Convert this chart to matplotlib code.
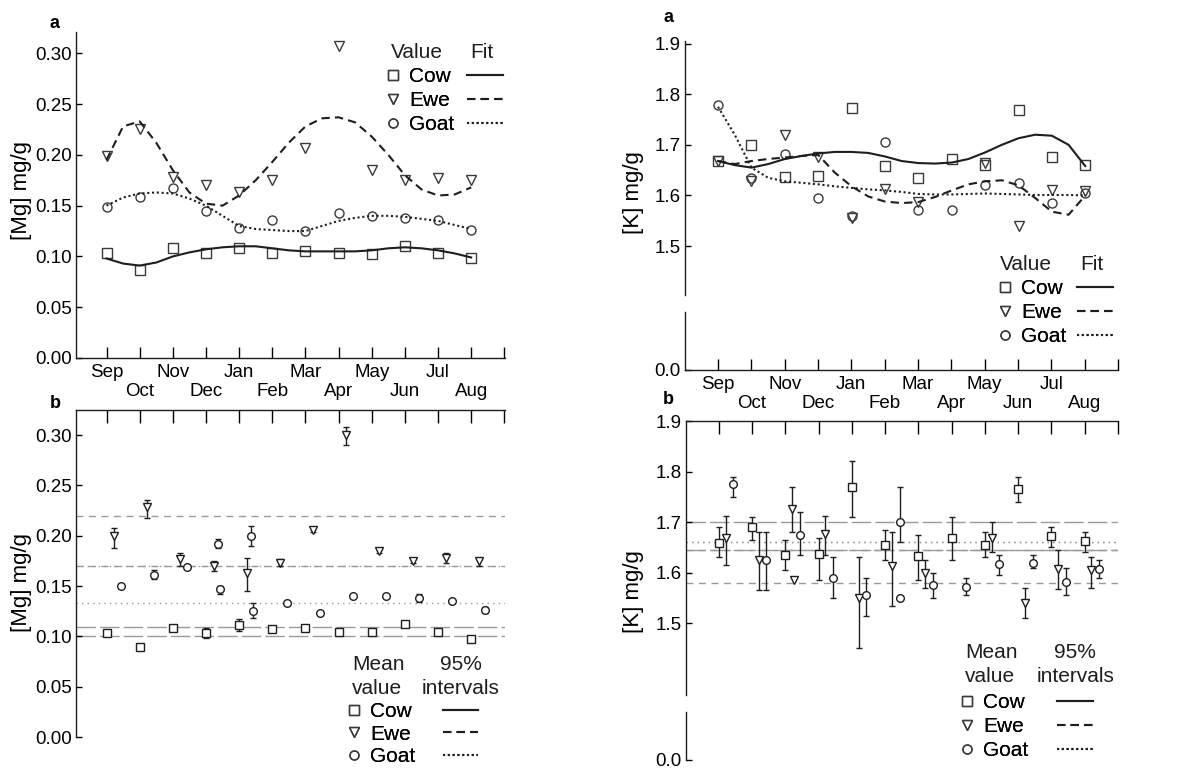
import numpy as np
import matplotlib
matplotlib.use("Agg")
import matplotlib.pyplot as plt
from matplotlib.lines import Line2D

plt.rcParams['font.family'] = ['Liberation Sans', 'DejaVu Sans']

# ---------------- data ----------------
months = ['Sep', 'Oct', 'Nov', 'Dec', 'Jan', 'Feb', 'Mar', 'Apr', 'May', 'Jun', 'Jul', 'Aug']
species = ['Cow', 'Ewe', 'Goat']

# [Mg] panel a: values
mg_a_cow = [0.103, 0.087, 0.108, 0.103, 0.108, 0.103, 0.105, 0.103, 0.102, 0.110, 0.103, 0.098]
mg_a_ewe = [0.199, 0.225, 0.178, 0.170, 0.163, 0.175, 0.207, 0.307, 0.185, 0.175, 0.177, 0.175]
mg_a_goat = [0.149, 0.159, 0.167, 0.145, 0.128, 0.136, 0.125, 0.143, 0.140, 0.138, 0.136, 0.126]
# [Mg] panel a: fitted curves, read every half month from Sep
mg_fit_cow = [0.098, 0.093, 0.091, 0.094, 0.100, 0.104, 0.107, 0.109, 0.110, 0.110, 0.108, 0.106,
              0.105, 0.105, 0.105, 0.105, 0.106, 0.108, 0.109, 0.108, 0.106, 0.103, 0.099]
mg_fit_ewe = [0.195, 0.228, 0.233, 0.212, 0.185, 0.163, 0.152, 0.150, 0.160, 0.175, 0.193, 0.212,
              0.228, 0.236, 0.237, 0.232, 0.218, 0.200, 0.180, 0.166, 0.160, 0.161, 0.168]
mg_fit_goat = [0.150, 0.158, 0.162, 0.163, 0.162, 0.157, 0.150, 0.140, 0.130, 0.127, 0.126, 0.125,
               0.125, 0.130, 0.135, 0.138, 0.140, 0.140, 0.139, 0.137, 0.135, 0.131, 0.127]

# [Mg] panel b: means and 95% limits
mg_b_cow = [0.103, 0.089, 0.108, 0.103, 0.111, 0.107, 0.108, 0.104, 0.104, 0.112, 0.104, 0.097]
mg_b_cow_lo = [0.101, 0.087, 0.106, 0.098, 0.105, 0.105, 0.106, 0.102, 0.102, 0.110, 0.102, 0.095]
mg_b_cow_hi = [0.105, 0.091, 0.110, 0.108, 0.117, 0.109, 0.110, 0.106, 0.106, 0.114, 0.106, 0.099]
mg_b_ewe = [0.200, 0.229, 0.177, 0.170, 0.163, 0.173, 0.206, 0.300, 0.185, 0.175, 0.178, 0.175]
mg_b_ewe_lo = [0.188, 0.218, 0.170, 0.165, 0.145, 0.170, 0.204, 0.290, 0.183, 0.173, 0.173, 0.170]
mg_b_ewe_hi = [0.208, 0.236, 0.183, 0.175, 0.178, 0.177, 0.208, 0.308, 0.187, 0.177, 0.183, 0.178]
mg_b_goat = [0.150, 0.161, 0.169, 0.147, 0.125, 0.133, 0.123, 0.140, 0.140, 0.138, 0.135, 0.126]
mg_b_goat_lo = [0.148, 0.157, 0.167, 0.142, 0.118, 0.131, 0.121, 0.138, 0.138, 0.134, 0.133, 0.123]
mg_b_goat_hi = [0.152, 0.166, 0.171, 0.150, 0.133, 0.135, 0.125, 0.142, 0.142, 0.142, 0.137, 0.129]
# additional goat means seen in Dec and Jan
mg_b_extra_month = [3, 4]
mg_b_extra = [0.192, 0.200]
mg_b_extra_lo = [0.188, 0.190]
mg_b_extra_hi = [0.197, 0.210]
# 95% interval reference lines
mg_int_cow = [0.100, 0.109]
mg_int_ewe = [0.170, 0.220]
mg_int_goat = [0.133, 0.170]

# [K] panel a: values
k_a_cow = [1.668, 1.700, 1.636, 1.638, 1.772, 1.658, 1.635, 1.672, 1.660, 1.768, 1.675, 1.660]
k_a_ewe = [1.668, 1.628, 1.720, 1.675, 1.555, 1.612, 1.588, np.nan, 1.665, 1.540, 1.610, 1.608]
k_a_goat = [1.778, 1.635, 1.682, 1.595, 1.560, 1.705, 1.572, 1.572, 1.620, 1.625, 1.585, 1.605]
# [K] panel a: fitted curves, every half month from Sep
k_fit_cow = [1.668, 1.660, 1.655, 1.662, 1.672, 1.678, 1.683, 1.686, 1.686, 1.684, 1.677, 1.668,
             1.664, 1.663, 1.665, 1.672, 1.685, 1.700, 1.713, 1.720, 1.718, 1.700, 1.658]
k_fit_ewe = [1.668, 1.662, 1.668, 1.672, 1.675, 1.678, 1.680, 1.645, 1.618, 1.598, 1.588, 1.585,
             1.587, 1.597, 1.610, 1.622, 1.628, 1.630, 1.620, 1.595, 1.568, 1.562, 1.600]
k_fit_goat = [1.775, 1.720, 1.655, 1.635, 1.628, 1.625, 1.622, 1.618, 1.615, 1.612, 1.610, 1.607,
              1.603, 1.602, 1.602, 1.603, 1.604, 1.603, 1.602, 1.601, 1.601, 1.601, 1.600]

# [K] panel b: means and 95% limits
k_b_cow = [1.658, 1.690, 1.635, 1.637, 1.770, 1.655, 1.633, 1.668, 1.655, 1.765, 1.672, 1.662]
k_b_cow_lo = [1.630, 1.665, 1.605, 1.585, 1.710, 1.625, 1.585, 1.625, 1.630, 1.740, 1.650, 1.640]
k_b_cow_hi = [1.690, 1.710, 1.665, 1.668, 1.820, 1.685, 1.675, 1.710, 1.680, 1.790, 1.690, 1.680]
k_b_ewe = [1.668, 1.625, 1.725, 1.677, 1.550, 1.613, 1.600, np.nan, 1.668, 1.540, 1.607, 1.605]
k_b_ewe_lo = [1.615, 1.565, 1.680, 1.635, 1.450, 1.535, 1.570, np.nan, 1.640, 1.510, 1.567, 1.570]
k_b_ewe_hi = [1.713, 1.680, 1.770, 1.713, 1.630, 1.680, 1.625, np.nan, 1.700, 1.570, 1.645, 1.630]
k_b_goat = [1.776, 1.625, 1.675, 1.590, 1.555, 1.700, 1.575, 1.572, 1.617, 1.620, 1.582, 1.608]
k_b_goat_lo = [1.750, 1.565, 1.635, 1.550, 1.515, 1.660, 1.550, 1.555, 1.595, 1.610, 1.555, 1.590]
k_b_goat_hi = [1.790, 1.680, 1.720, 1.630, 1.590, 1.770, 1.600, 1.590, 1.635, 1.635, 1.610, 1.625]
# additional means seen in Nov (ewe) and Feb (goat)
k_b_extra_ewe_month = [2]
k_b_extra_ewe = [1.585]
k_b_extra_goat_month = [5]
k_b_extra_goat = [1.550]
# 95% interval reference lines
k_int_cow = [1.645, 1.700]
k_int_ewe = [1.580, 1.645]
k_int_goat = [1.660, 1.660]

# ---------------- layout helpers ----------------
W, H = 1196, 773
fig = plt.figure(figsize=(W / 100, H / 100), dpi=100)
fig.patch.set_facecolor('white')


def rect(l, t, r, b):
    return [l / W, 1 - b / H, (r - l) / W, (b - t) / H]


def fx(x):
    return x / W


def fy(y):
    return 1 - y / H


INK = '#1e1e1e'
MK = '#3a3a3a'
REF = '#9a9a9a'
FS_TICK = 13.5
FS_LEG = 15
markers = {'Cow': 's', 'Ewe': 'v', 'Goat': 'o'}
fit_styles = {'Cow': '-', 'Ewe': (0, (4, 2.5)), 'Goat': (0, (1, 1.3))}
ref_styles = {'Cow': (0, (14, 3)), 'Ewe': (0, (5, 4)), 'Goat': (0, (1, 3))}

month_idx = np.arange(len(months))
tick_pos = np.arange(len(months) + 1)
tick_labels = [m if i % 2 == 0 else '\n' + m for i, m in enumerate(months)] + ['']
half = np.arange(len(mg_fit_cow)) * 0.5


def style_ticks(ax):
    ax.tick_params(axis='y', direction='in', length=4, width=1, labelsize=FS_TICK, pad=3)
    ax.tick_params(axis='x', direction='in', length=8, width=1, labelsize=FS_TICK, pad=4)
    for s in ax.spines.values():
        s.set_linewidth(1.0)
        s.set_color(INK)


def draw_values(ax, series):
    for name, vals in zip(species, series):
        ax.plot(month_idx, vals, ls='none', marker=markers[name], mfc='none',
                mec=MK, ms=6.5, mew=1.0)


def draw_fits(ax, fits):
    for name, vals in zip(species, fits):
        ax.plot(half, vals, color=INK, lw=1.5, ls=fit_styles[name])


def draw_means(ax, data, offsets):
    for name, (v, lo, hi), off in zip(species, data, offsets):
        v = np.asarray(v, float)
        lo = np.asarray(lo, float)
        hi = np.asarray(hi, float)
        ax.errorbar(month_idx + off, v, yerr=[v - lo, hi - v], fmt=markers[name],
                    mfc='white', mec=INK, ecolor=INK, ms=5.5, mew=1.0,
                    elinewidth=1.0, capsize=2, capthick=1.0)


def draw_refs(ax, intervals):
    for name, lims in zip(species, intervals):
        for y in lims:
            ax.axhline(y, color=REF, lw=1.0, ls=ref_styles[name], zorder=0)


def add_legend(x_marker, x_line, y_top, line_len, titles, spacing=0.25):
    h1 = [Line2D([], [], ls='none', marker=markers[s], mfc='none', mec=MK, ms=6.5, mew=1.0)
          for s in species]
    h2 = [Line2D([], [], color=INK, lw=1.5, ls=fit_styles[s]) for s in species]
    l1 = fig.legend(h1, species, loc='upper left', bbox_to_anchor=(fx(x_marker), fy(y_top)),
                    bbox_transform=fig.transFigure, frameon=False, borderpad=0,
                    borderaxespad=0, handlelength=0.6, handletextpad=0.45,
                    labelspacing=spacing, fontsize=FS_LEG)
    l2 = fig.legend(h2, ['', '', ''], loc='upper left', bbox_to_anchor=(fx(x_line), fy(y_top)),
                    bbox_transform=fig.transFigure, frameon=False, borderpad=0,
                    borderaxespad=0, handlelength=line_len, handletextpad=0.1,
                    labelspacing=spacing, fontsize=FS_LEG)
    fig.add_artist(l1)
    fig.add_artist(l2)
    for (tx, ty, s, ha) in titles:
        fig.text(fx(tx), fy(ty), s, fontsize=FS_LEG, ha=ha, va='center', color=INK)


# ---------------- [Mg] panel a ----------------
ax = fig.add_axes(rect(76, 32, 505, 358))
draw_values(ax, [mg_a_cow, mg_a_ewe, mg_a_goat])
draw_fits(ax, [mg_fit_cow, mg_fit_ewe, mg_fit_goat])
ax.set_xlim(-0.92, 12.02)
ax.set_ylim(0, 0.321)
mg_ticks = [0.00, 0.05, 0.10, 0.15, 0.20, 0.25, 0.30]
ax.set_yticks(mg_ticks)
ax.set_yticklabels([f'{t:.2f}' for t in mg_ticks])
ax.set_xticks(tick_pos)
ax.set_xticklabels(tick_labels, va='top')
ax.spines[['top', 'right']].set_visible(False)
style_ticks(ax)
fig.text(fx(55), fy(23), 'a', fontsize=13, fontweight='bold', ha='center', va='center')
fig.text(fx(22), fy(190), '[Mg] mg/g', fontsize=16, rotation=90, ha='center', va='center')
add_legend(387, 467, 67, 1.73, [(391, 52, 'Value', 'left'), (470, 52, 'Fit', 'left')])

# ---------------- [Mg] panel b ----------------
ax = fig.add_axes(rect(76, 410, 505, 737))
draw_refs(ax, [mg_int_cow, mg_int_ewe, mg_int_goat])
draw_means(ax, [(mg_b_cow, mg_b_cow_lo, mg_b_cow_hi),
                (mg_b_ewe, mg_b_ewe_lo, mg_b_ewe_hi),
                (mg_b_goat, mg_b_goat_lo, mg_b_goat_hi)], [0.0, 0.23, 0.43])
ex = np.asarray(mg_b_extra)
ax.errorbar(np.asarray(mg_b_extra_month) + 0.36, ex,
            yerr=[ex - np.asarray(mg_b_extra_lo), np.asarray(mg_b_extra_hi) - ex],
            fmt='o', mfc='white', mec=INK, ecolor=INK, ms=5.5, mew=1.0,
            elinewidth=1.0, capsize=2)
ax.set_xlim(-0.92, 12.02)
ax.set_ylim(0, 0.325)
ax.set_yticks(mg_ticks)
ax.set_yticklabels([f'{t:.2f}' for t in mg_ticks])
ax.set_xticks(tick_pos)
ax.spines[['bottom', 'right']].set_visible(False)
style_ticks(ax)
ax.tick_params(axis='x', top=True, bottom=False, labeltop=False, labelbottom=False, length=9)
fig.text(fx(55), fy(404), 'b', fontsize=13, fontweight='bold', ha='center', va='center')
fig.text(fx(22), fy(582), '[Mg] mg/g', fontsize=16, rotation=90, ha='center', va='center')
add_legend(348, 443, 702, 1.68,
           [(352, 665, 'Mean', 'left'), (352, 688, 'value', 'left'),
            (461, 665, '95%', 'center'), (461, 688, 'intervals', 'center')], spacing=0.18)

# ---------------- [K] panel a ----------------
k_ticks = [1.5, 1.6, 1.7, 1.8, 1.9]
axu = fig.add_axes(rect(685, 41, 1118, 295))
draw_values(axu, [k_a_cow, k_a_ewe, k_a_goat])
draw_fits(axu, [k_fit_cow, k_fit_ewe, k_fit_goat])
axu.set_xlim(-0.99, 11.98)
axu.set_ylim(1.4035, 1.905)
axu.set_yticks(k_ticks)
axu.set_yticklabels([f'{t:.1f}' for t in k_ticks])
axu.set_xticks([])
axu.spines[['top', 'right', 'bottom']].set_visible(False)
style_ticks(axu)

axl = fig.add_axes(rect(685, 312, 1118, 370))
axl.set_xlim(-0.99, 11.98)
axl.set_ylim(0, 1)
axl.set_yticks([0])
axl.set_yticklabels(['0.0'])
axl.set_xticks(tick_pos)
axl.set_xticklabels(tick_labels, va='top')
axl.spines[['top', 'right']].set_visible(False)
style_ticks(axl)
fig.text(fx(668), fy(17), 'a', fontsize=13, fontweight='bold', ha='center', va='center')
fig.text(fx(634), fy(193), '[K] mg/g', fontsize=16, rotation=90, ha='center', va='center')
add_legend(999, 1077, 279, 1.73, [(1000, 265, 'Value', 'left'), (1080, 265, 'Fit', 'left')])

# ---------------- [K] panel b ----------------
axu = fig.add_axes(rect(686, 421, 1118, 695))
draw_refs(axu, [k_int_cow, k_int_ewe, k_int_goat])
draw_means(axu, [(k_b_cow, k_b_cow_lo, k_b_cow_hi),
                 (k_b_ewe, k_b_ewe_lo, k_b_ewe_hi),
                 (k_b_goat, k_b_goat_lo, k_b_goat_hi)], [0.0, 0.2, 0.43])
axu.plot(np.asarray(k_b_extra_ewe_month) + 0.25, k_b_extra_ewe, ls='none', marker='v',
         mfc='white', mec=INK, ms=5.5, mew=1.0)
axu.plot(np.asarray(k_b_extra_goat_month) + 0.43, k_b_extra_goat, ls='none', marker='o',
         mfc='white', mec=INK, ms=5.5, mew=1.0)
axu.set_xlim(-0.99, 11.98)
axu.set_ylim(1.358, 1.9)
axu.set_yticks(k_ticks)
axu.set_yticklabels([f'{t:.1f}' for t in k_ticks])
axu.set_xticks(tick_pos)
axu.spines[['bottom', 'right']].set_visible(False)
style_ticks(axu)
axu.tick_params(axis='x', top=True, bottom=False, labeltop=False, labelbottom=False, length=9)

axl = fig.add_axes(rect(686, 712, 1118, 760))
axl.set_xlim(-0.99, 11.98)
axl.set_ylim(0, 1)
axl.set_yticks([0])
axl.set_yticklabels(['0.0'])
axl.set_xticks([])
axl.spines[['top', 'right', 'bottom']].set_visible(False)
style_ticks(axl)
fig.text(fx(668), fy(400), 'b', fontsize=13, fontweight='bold', ha='center', va='center')
fig.text(fx(634), fy(592), '[K] mg/g', fontsize=16, rotation=90, ha='center', va='center')
add_legend(961, 1057, 693, 1.73,
           [(965, 652, 'Mean', 'left'), (965, 677, 'value', 'left'),
            (1075, 652, '95%', 'center'), (1076, 677, 'intervals', 'center')])

fig.savefig('out.png', dpi=100, facecolor='white')
